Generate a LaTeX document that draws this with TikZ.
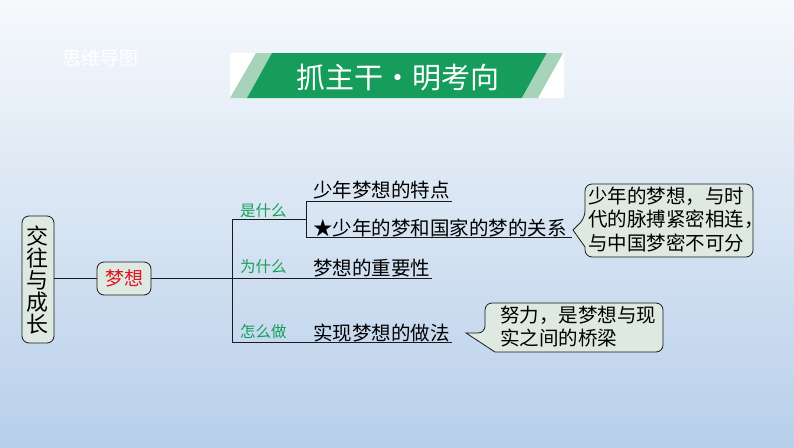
\documentclass[tikz,border=0pt]{standalone}
\usepackage{fontspec}
\setmainfont{Noto Sans CJK SC}
\definecolor{bgtop}{HTML}{F6F9FC}
\definecolor{bgbot}{HTML}{B8CFEA}
\definecolor{dkgreen}{HTML}{169D5C}
\definecolor{ltgreen}{HTML}{A6D3B9}
\definecolor{boxfill}{HTML}{DDE9E1}
\definecolor{lblgreen}{HTML}{14A058}
\definecolor{dreamred}{HTML}{E0141E}
\definecolor{linec}{HTML}{1A1A1A}
\tikzset{
  maintext/.style={font=\fontsize{19.5}{22}\selectfont, inner sep=0pt, anchor=west},
  lbltext/.style={text=lblgreen, font=\fontsize{15.5}{18}\selectfont, inner sep=0pt, anchor=west},
  boxshape/.style={draw=linec, fill=boxfill, line width=0.8pt, rounded corners=7pt},
  conn/.style={draw=linec, line width=0.9pt},
  calltext/.style={font=\fontsize{19.5}{23.5}\selectfont, inner sep=0pt, anchor=north west, align=left},
}
\begin{document}
\begin{tikzpicture}[x=1pt,y=-1pt]
\shade[top color=bgtop,bottom color=bgbot] (0,0) rectangle (794,447);
\useasboundingbox (0,0) rectangle (794,447);

% header
\node[text=white, font=\fontsize{19}{21}\selectfont, inner sep=0pt] (mm) at (100,58) {思维导图};
\fill[white] (230,53) rectangle (564,98);
\fill[ltgreen] (230,98) -- (256,53) -- (272,53) -- (247,98) -- cycle;
\fill[dkgreen] (247,98) -- (272,53) -- (547,53) -- (522,98) -- cycle;
\fill[ltgreen] (522,98) -- (547,53) -- (563,53) -- (538,98) -- cycle;
\node[text=white, font=\fontsize{29}{31}\selectfont, inner sep=0pt] (title) at (397.5,78) {抓主干・明考向};

% main nodes
\node[boxshape, minimum width=32pt, minimum height=127pt, inner sep=0pt,
      font=\fontsize{22}{22}\selectfont, align=center] (root) at (38,279.5) {交\\往\\与\\成\\长};
\node[boxshape, minimum width=54pt, minimum height=33pt, inner sep=0pt,
      text=dreamred, font=\fontsize{19}{21}\selectfont] (dream) at (124,278.5) {梦想};

% joints
\coordinate (j0) at (232,278);
\coordinate (jtop) at (232,219);
\coordinate (jbot) at (232,342);
\coordinate (k0) at (306,219);
\coordinate (ktop) at (306,201);
\coordinate (kbot) at (306,237);
\coordinate (e1) at (452,201);
\coordinate (e2) at (572,237);
\coordinate (e3) at (432,278);
\coordinate (e4) at (452,342);

\draw[conn] (root.east |- j0) -- (dream.west |- j0);
\draw[conn] (dream.east |- j0) -- (j0);
\draw[conn] (jtop) -- (jbot);
\draw[conn] (jtop) -- (k0);
\draw[conn] (ktop) -- (kbot);
\draw[conn] (ktop) -- (e1);
\draw[conn] (kbot) -- (e2);
\draw[conn] (j0) -- (e3);
\draw[conn] (jbot) -- (e4);

% labels
\node[lbltext] (l1) at (240,211) {是什么};
\node[lbltext] (l2) at (240,267) {为什么};
\node[lbltext] (l3) at (240,332) {怎么做};

\node[maintext] (t1) at (313,190) {少年梦想的特点};
\node[maintext] (t2) at (313,228) {★少年的梦和国家的梦的关系};
\node[maintext] (t3) at (313,268) {梦想的重要性};
\node[maintext] (t4) at (313,333) {实现梦想的做法};

% callout 1
\draw[boxshape] (573,230) -- (585,218) [rounded corners=7pt] -- (585,184) -- (753,184) -- (753,257) -- (585,257) [sharp corners] -- (585,247) -- cycle;
\node[calltext] (c1) at (588,186.5) {少年的梦想，与时\\代的脉搏紧密相连，\\与中国梦密不可分};

% callout 2
\draw[boxshape] (466,333) -- (485,333) [rounded corners=7pt] -- (485,303) -- (663,303) -- (663,352) [sharp corners] -- (495,352) -- cycle;
\node[calltext] (c2) at (500,305.5) {努力，是梦想与现\\实之间的桥梁};
\end{tikzpicture}
\end{document}
